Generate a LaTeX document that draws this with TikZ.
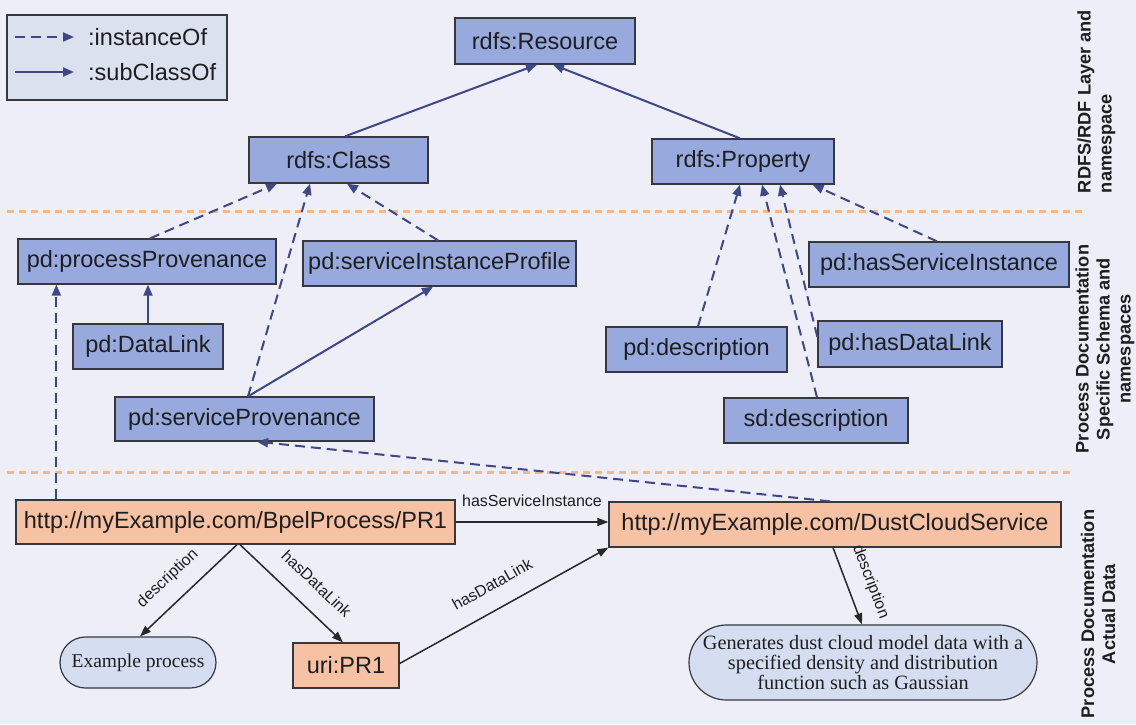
\documentclass[tikz,border=0pt]{standalone}
\usepackage{fontspec}
\setmainfont{Liberation Sans}
\newfontfamily\literalfont{Liberation Serif}
\usetikzlibrary{arrows.meta,calc,shapes.misc}

\definecolor{pagebg}{RGB}{237,238,247}
\definecolor{classfill}{RGB}{151,169,221}
\definecolor{datafill}{RGB}{246,194,163}
\definecolor{litfill}{RGB}{212,222,240}
\definecolor{legendfill}{RGB}{220,225,240}
\definecolor{edgeblue}{RGB}{62,72,135}
\definecolor{edgedark}{RGB}{40,40,40}
\definecolor{bordergray}{RGB}{55,55,62}
\definecolor{layerline}{RGB}{246,182,140}
\definecolor{inktext}{RGB}{30,30,32}

\begin{document}
\begin{tikzpicture}[x=1pt,y=-1pt,
  box/.style={draw=bordergray, line width=1.3pt, inner sep=0pt, text=inktext,
    font=\fontsize{23.5}{28}\selectfont},
  classbox/.style={box, fill=classfill},
  databox/.style={box, fill=datafill},
  literal/.style={rounded rectangle, draw=bordergray, line width=1.2pt, fill=litfill,
    inner sep=0pt, align=center, text=inktext, font=\literalfont\fontsize{19.5}{20}\selectfont},
  inst/.style={draw=edgeblue, line width=2pt, dash pattern=on 10pt off 6pt,
    -{Triangle[length=11pt,width=9pt]}},
  sub/.style={draw=edgeblue, line width=2pt, -{Triangle[length=11pt,width=9pt]}},
  rel/.style={draw=edgedark, line width=1.5pt, -{Triangle[length=11pt,width=8pt]}},
  rellabel/.style={font=\fontsize{16}{18}\selectfont, text=inktext,
    text height=0.72em, text depth=0.2em, inner sep=13pt},
  slopedlabel/.style={rellabel, sloped, above, inner sep=16pt},
  layer/.style={draw=layerline, line width=3pt, dash pattern=on 7pt off 5pt},
  side/.style={rotate=90, text=inktext, font=\bfseries\fontsize{18.2}{21}\selectfont},
  legendtext/.style={anchor=west, inner sep=0pt, text=inktext, font=\fontsize{23.5}{28}\selectfont}
]
% page
\fill[pagebg] (0,0) rectangle (1136,724);
\useasboundingbox (0,0) rectangle (1136,724);

% layer separators
\draw[layer] (7,211) -- (1082,211);
\draw[layer] (7,472) -- (1073,472);

% legend
\node[draw=bordergray, fill=legendfill, line width=1.3pt, minimum width=220pt,
  minimum height=85pt, inner sep=0pt] (legend) at (117,57.5) {};
\coordinate (instA) at (15,37);
\coordinate (instB) at (74,37);
\coordinate (subA) at (15,72);
\coordinate (subB) at (74,72);
\draw[inst] (instA) -- (instB);
\draw[sub] (subA) -- (subB);
\node[legendtext] (instlbl) at (88,37) {:instanceOf};
\node[legendtext] (sublbl) at (88,72) {:subClassOf};

% RDFS layer
\node[classbox, minimum width=180pt, minimum height=46pt] (res) at (545,41) {rdfs:Resource};
\node[classbox, minimum width=179pt, minimum height=46pt] (cls) at (338.5,160) {rdfs:Class};
\node[classbox, minimum width=182pt, minimum height=45pt] (prop) at (743,161.5) {rdfs:Property};

% schema layer
\node[classbox, minimum width=258pt, minimum height=45pt] (pP) at (147,261.5) {pd:processProvenance};
\node[classbox, minimum width=273pt, minimum height=45pt] (sIP) at (439.5,263.5) {pd:serviceInstanceProfile};
\node[classbox, minimum width=150pt, minimum height=45pt] (dl) at (148,346.5) {pd:DataLink};
\node[classbox, minimum width=259pt, minimum height=44pt] (sP) at (244.5,419) {pd:serviceProvenance};
\node[classbox, minimum width=181pt, minimum height=45pt] (pdd) at (696.5,349.5) {pd:description};
\node[classbox, minimum width=184pt, minimum height=45pt] (sdd) at (816,420.5) {sd:description};
\node[classbox, minimum width=260pt, minimum height=45pt] (hSI) at (939,264.5) {pd:hasServiceInstance};
\node[classbox, minimum width=184pt, minimum height=46pt] (hDL) at (910,344) {pd:hasDataLink};

% data layer
\node[databox, minimum width=439pt, minimum height=44pt] (bpel) at (235.5,522) {http://myExample.com/BpelProcess/PR1};
\node[databox, minimum width=452pt, minimum height=45pt] (dcs) at (835,524.5) {http://myExample.com/DustCloudService};
\node[databox, minimum width=106pt, minimum height=45pt] (uri) at (346,665.5) {uri:PR1};
\node[literal, minimum width=156pt, minimum height=51pt] (ex) at (138,662.5) {Example process};
\node[literal, minimum width=348pt, minimum height=75pt, font=\literalfont\fontsize{20.3}{20}\selectfont] (gen) at (863,662.5)
  {Generates dust cloud model data with a\\specified density and distribution\\function such as Gaussian};

% layer captions
\node[side, align=left] (cap1) at (1096.5,101.5) {RDFS/RDF Layer and\\namespace};
\node[side, align=center] (cap2) at (1105,349) {Process Documentation\\Specific Schema and\\namespaces};
\node[side, align=center] (cap3) at (1098,614) {Process Documentation\\Actual Data};

% subclass / instance links
\draw[sub] ([xshift=6.5pt]cls.north) -- ([xshift=-8pt]res.south);
\draw[sub] ([xshift=-3pt]prop.north) -- ([xshift=8pt]res.south);
\draw[inst] ([xshift=3pt]pP.north) -- ([xshift=-61.5pt]cls.south);
\draw[inst] ([xshift=3.5pt]sP.north) -- ([xshift=-28.5pt]cls.south);
\draw[inst] ([xshift=-1.5pt]sIP.north) -- ([xshift=8.5pt]cls.south);
\draw[sub] (dl.north) -- (dl.north |- pP.south);
\draw[sub] ([xshift=3.5pt]sP.north) -- ([xshift=-6.5pt]sIP.south);
\draw[inst] ([xshift=1.5pt]pdd.north) -- ([xshift=-3pt]prop.south);
\draw[inst] ([xshift=1pt]sdd.north) -- ([xshift=19pt]prop.south);
\draw[inst] ([yshift=7pt]hDL.west) -- ([xshift=37pt]prop.south);
\draw[inst] ([xshift=-2pt]hSI.north) -- ([xshift=-22pt]prop.south east);
\draw[inst] ([xshift=-5pt]dcs.north) -- ([xshift=12.5pt]sP.south);
\coordinate (bpeltop) at ([xshift=41pt]bpel.north west);
\draw[inst] (bpeltop) -- (bpeltop |- pP.south);

% data relations
\draw[rel] (bpel.east) -- (bpel.east -| dcs.west)
  node[midway, above, rellabel] {hasServiceInstance};
\draw[rel] ([xshift=1.5pt]bpel.south) -- ([xshift=2pt]ex.north)
  node[pos=0.55, slopedlabel] {description};
\draw[rel] ([xshift=4.5pt]bpel.south) -- ([xshift=-3pt]uri.north)
  node[pos=0.58, slopedlabel] {hasDataLink};
\draw[rel] ([yshift=2pt]uri.east) -- (dcs.south west)
  node[pos=0.5, slopedlabel] {hasDataLink};
\draw[rel] ([xshift=-2pt]dcs.south) -- ([xshift=-1pt]gen.north)
  node[pos=0.55, slopedlabel] {description};
\end{tikzpicture}
\end{document}
